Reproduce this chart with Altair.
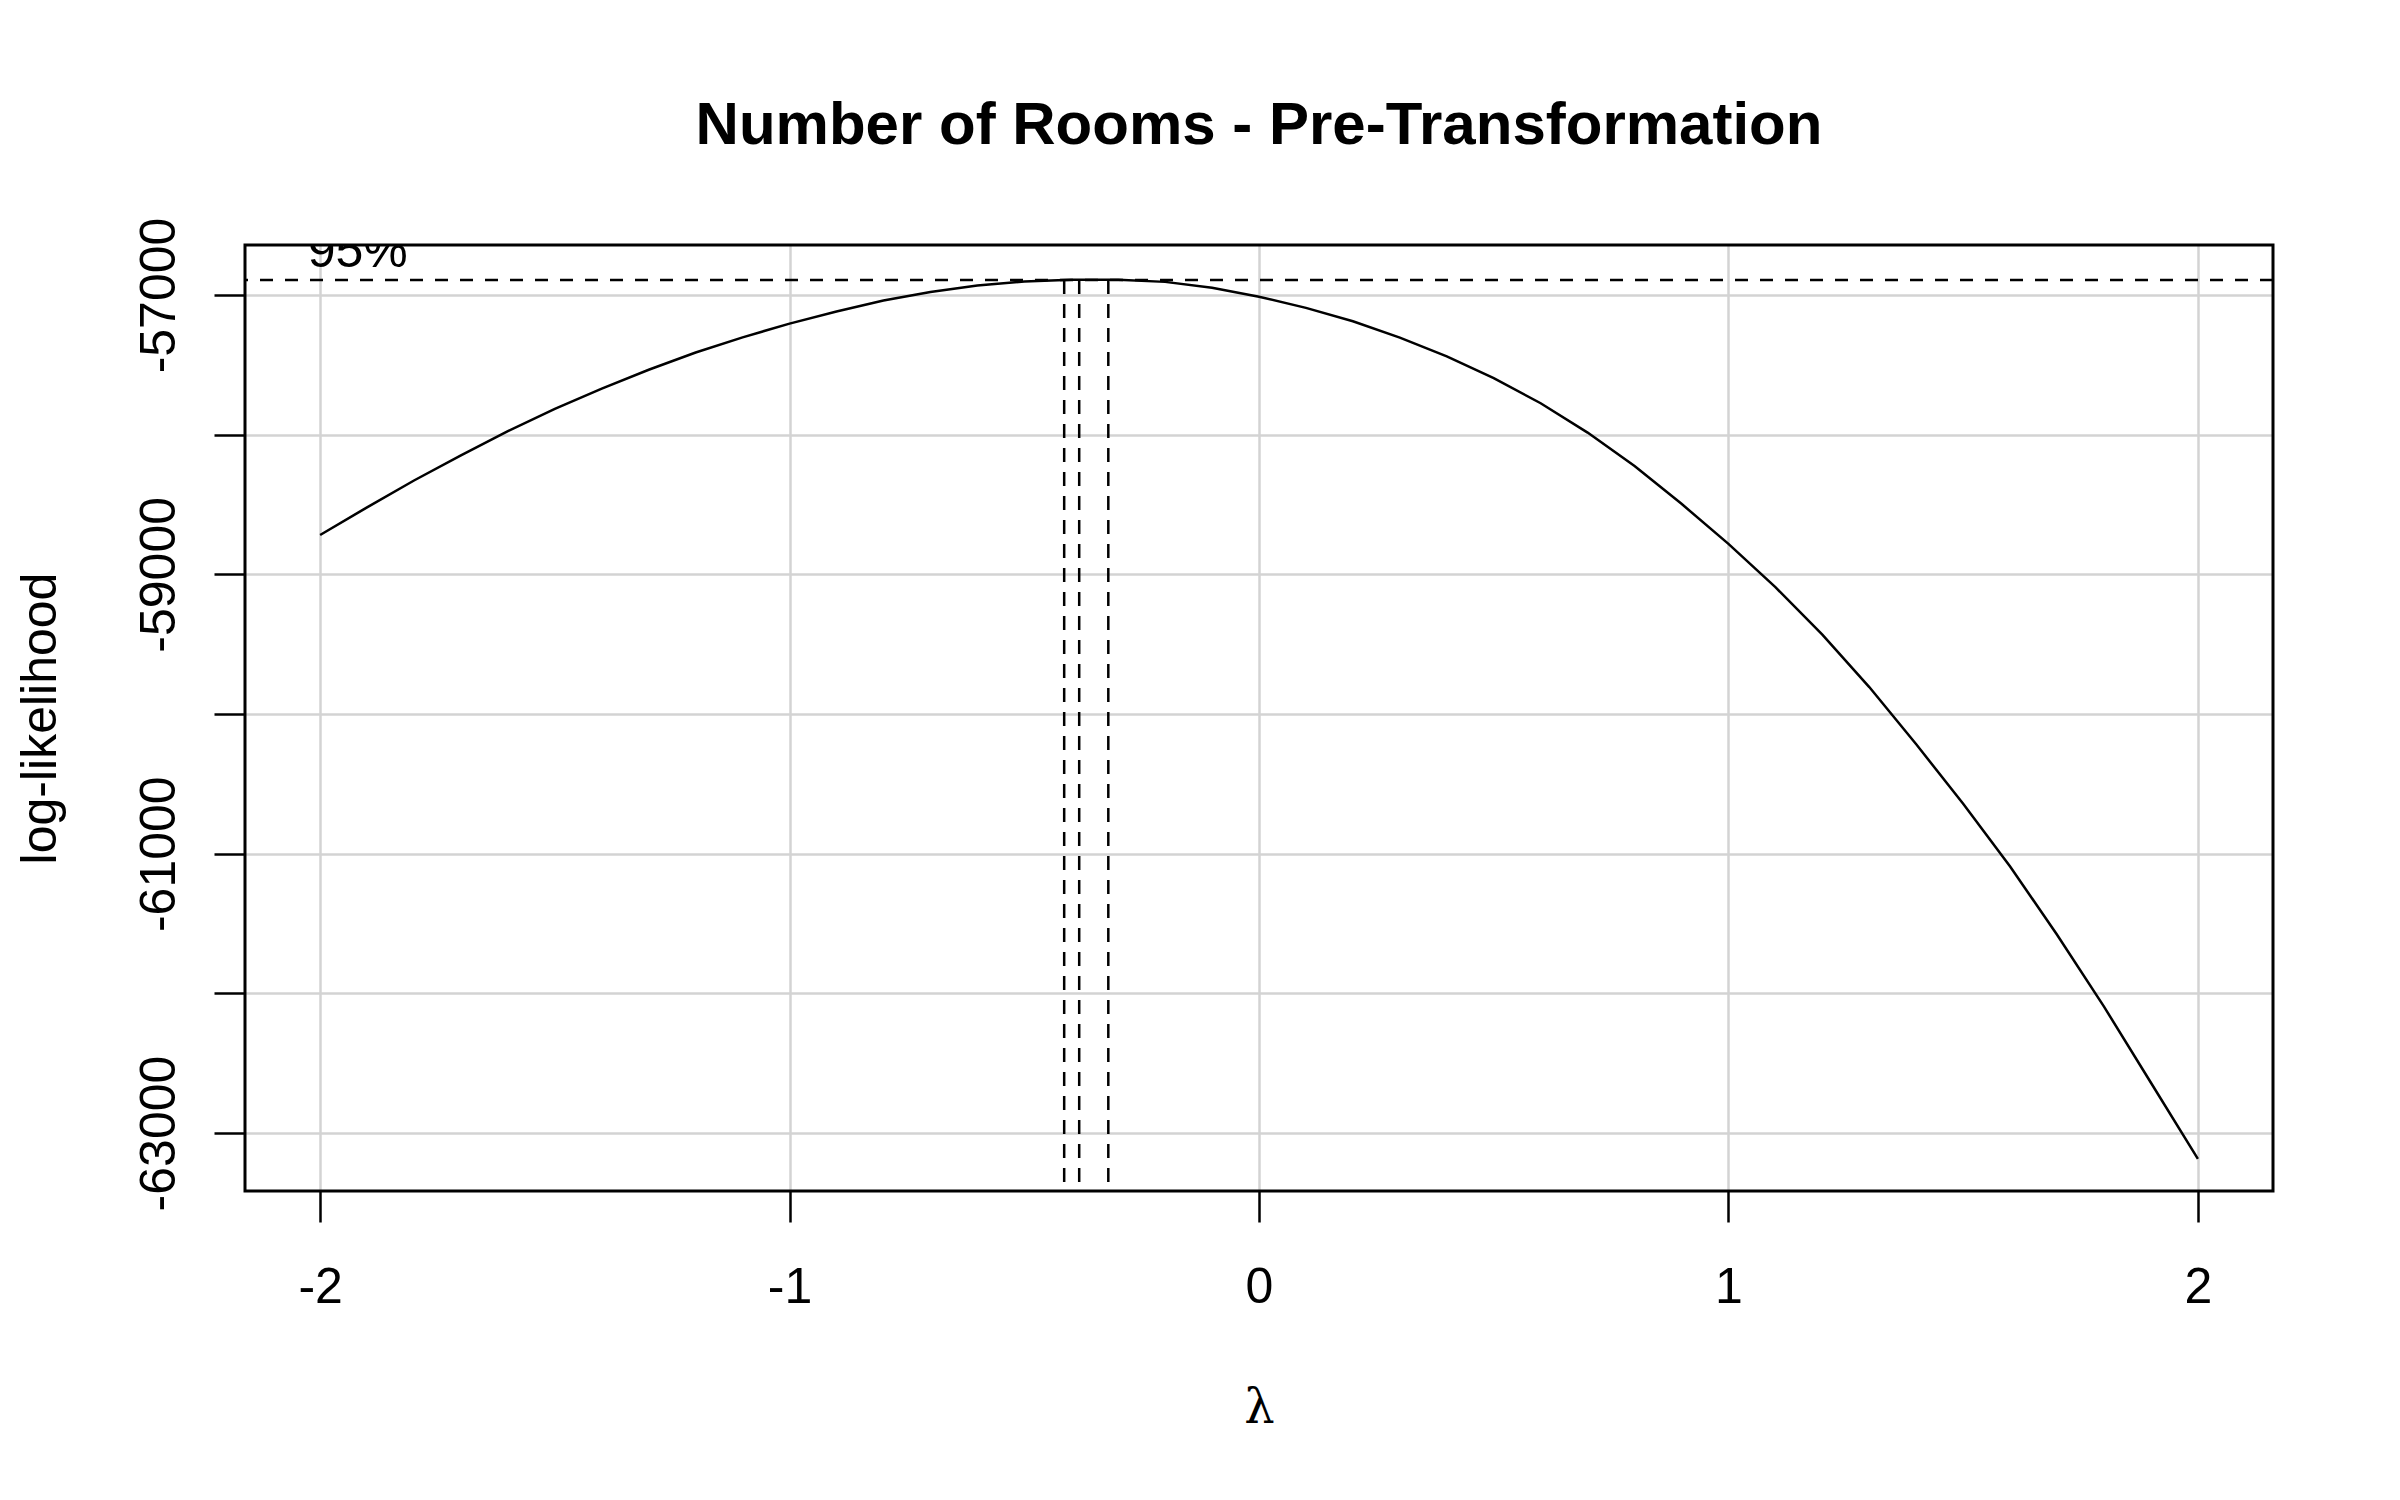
import altair as alt
import pandas as pd

# ---- data ----
lambdas = [-2.0, -1.9, -1.8, -1.7, -1.6, -1.5, -1.4, -1.3, -1.2, -1.1,
           -1.0, -0.9, -0.8, -0.7, -0.6, -0.5, -0.4, -0.3, -0.2, -0.1,
           0.0, 0.1, 0.2, 0.3, 0.4, 0.5, 0.6, 0.7, 0.8, 0.9,
           1.0, 1.1, 1.2, 1.3, 1.4, 1.5, 1.6, 1.7, 1.8, 1.9, 2.0]
loglik = [-58718, -58520, -58328, -58148, -57975, -57816, -57670, -57535, -57412, -57303,
          -57205, -57118, -57040, -56978, -56932, -56903, -56890, -56890, -56906, -56948,
          -57012, -57092, -57188, -57305, -57440, -57595, -57775, -57985, -58225, -58495,
          -58782, -59092, -59432, -59807, -60217, -60642, -61092, -61580, -62095, -62640,
          -63185]
ci_lambdas = [-0.415, -0.383, -0.321]
limit_95 = -56892
label_text = ["95%"]
label_lambda = [-1.92]
label_loglik = [-56796]
x_ticks = [-2, -1, 0, 1, 2]
y_ticks = [-63000, -62000, -61000, -60000, -59000, -58000, -57000]
x_domain = [-2.16, 2.16]
y_domain = [-63415, -56642]

TITLE = "Number of Rooms - Pre-Transformation"
W, H = 2028, 946
FONT = "Liberation Sans"

curve_df = pd.DataFrame({"lambda": lambdas, "loglik": loglik})
ci_df = pd.DataFrame({"lambda": ci_lambdas, "loglik": [limit_95] * len(ci_lambdas)})
lim_df = pd.DataFrame({"loglik": [limit_95]})
lab_df = pd.DataFrame({"lambda": label_lambda, "loglik": label_loglik, "t": label_text})

xscale = alt.Scale(domain=x_domain, nice=False, zero=False)
yscale = alt.Scale(domain=y_domain, nice=False, zero=False)

xaxis = alt.Axis(
    values=x_ticks, title="λ", labelExpr="toString(datum.value)",
    grid=True, gridColor="#d3d3d3", gridWidth=2.5, domain=False,
    ticks=True, tickColor="black", tickWidth=2.5, tickSize=31,
    labelFont=FONT, labelFontSize=50, labelColor="black", labelPadding=80,
    labelBaseline="alphabetic", labelAlign="center", labelFlush=False, labelOverlap=False,
    titleFont="DejaVu Serif", titleFontSize=48, titleFontWeight="normal", titleColor="black",
    titleX=W / 2, titleY=231, titleBaseline="alphabetic", titleAlign="center",
)
yaxis = alt.Axis(
    values=y_ticks, title="log-likelihood",
    labelExpr="datum.value % 2000 == 0 ? '' : toString(datum.value)",
    grid=True, gridColor="#d3d3d3", gridWidth=2.5, domain=False,
    ticks=True, tickColor="black", tickWidth=2.5, tickSize=31,
    labelFont=FONT, labelFontSize=50, labelColor="black", labelPadding=40,
    labelAngle=270, labelBaseline="alphabetic", labelAlign="center",
    labelFlush=False, labelOverlap=False,
    titleFont=FONT, titleFontSize=50, titleFontWeight="normal", titleColor="black",
    titleAngle=270, titleX=-190, titleY=H / 2, titleBaseline="alphabetic", titleAlign="center",
)

X = alt.X("lambda:Q", scale=xscale, axis=xaxis)
Y = alt.Y("loglik:Q", scale=yscale, axis=yaxis)

curve = alt.Chart(curve_df).mark_line(color="black", strokeWidth=2.5).encode(x=X, y=Y)

hline = alt.Chart(lim_df).mark_rule(color="black", strokeWidth=2.5, strokeDash=[13, 12]).encode(y=Y)

vlines = alt.Chart(ci_df).mark_rule(color="black", strokeWidth=2.5, strokeDash=[14, 10]).encode(
    x=X, y=Y, y2=alt.value(H)
)

label = alt.Chart(lab_df).mark_text(
    font=FONT, fontSize=50, align="center", baseline="alphabetic", clip=True, color="black"
).encode(x=X, y=Y, text="t:N")

border = alt.Chart(pd.DataFrame({"d": [0]})).mark_rect(
    fillOpacity=0, stroke="black", strokeWidth=3
).encode(x=alt.value(0), x2=alt.value(W), y=alt.value(0), y2=alt.value(H))

chart = alt.layer(curve, hline, vlines, label, border).properties(
    width=W, height=H,
    title=alt.Title(TITLE, font=FONT, fontSize=60, fontWeight="bold", color="black",
                    anchor="middle", frame="group", baseline="alphabetic", offset=13),
    autosize=alt.AutoSizeParams(type="none"),
    padding={"left": 237, "top": 237, "right": 100, "bottom": 280},
    background="white",
).configure(font=FONT).configure_view(strokeWidth=0)

chart.save("out.html", embed_options={"renderer": "svg", "actions": False})
